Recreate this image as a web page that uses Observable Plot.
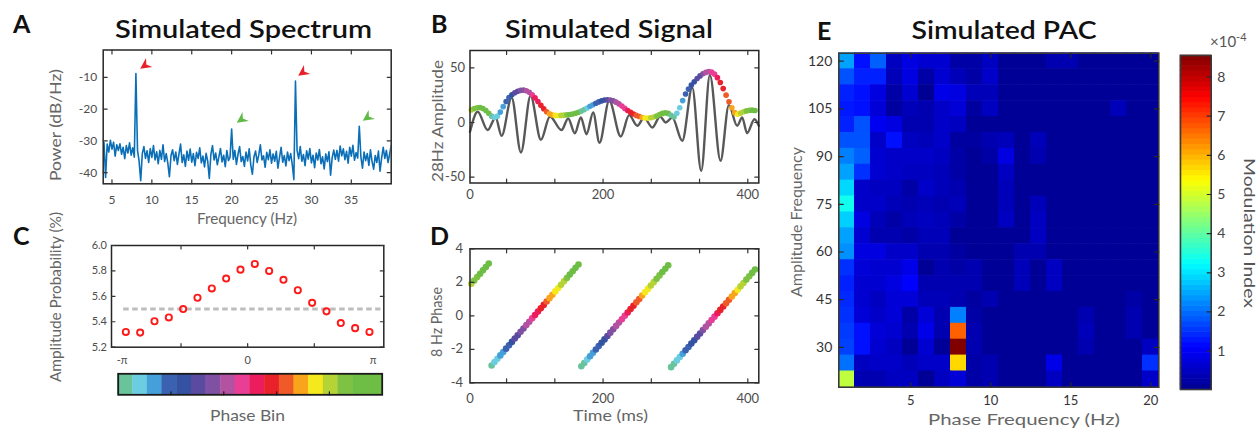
<!DOCTYPE html>
<html><head><meta charset="utf-8">
<script src="https://cdn.jsdelivr.net/npm/d3@7"></script>
<script src="https://cdn.jsdelivr.net/npm/@observablehq/plot@0.6"></script>
<style>
html,body{margin:0;padding:0;background:#fff;}
#fig{position:relative;width:1260px;height:429px;overflow:hidden;background:#fff;}
#fig > svg{position:absolute;}
</style></head><body><div id="fig"></div>
<script>
// ---------- Panel A: spectrum ----------
const specFreq = [4,4.2,4.4,4.6,4.8,5,5.2,5.4,5.6,5.8,6,6.2,6.4,6.6,6.8,7,7.2,7.4,7.6,7.8,
8,8.2,8.4,8.6,8.8,9,9.2,9.4,9.6,9.8,10,10.2,10.4,10.6,10.8,11,11.2,11.4,11.6,11.8,
12,12.2,12.4,12.6,12.8,13,13.2,13.4,13.6,13.8,14,14.2,14.4,14.6,14.8,15,15.2,15.4,15.6,15.8,
16,16.2,16.4,16.6,16.8,17,17.2,17.4,17.6,17.8,18,18.2,18.4,18.6,18.8,19,19.2,19.4,19.6,19.8,
20,20.2,20.4,20.6,20.8,21,21.2,21.4,21.6,21.8,22,22.2,22.4,22.6,22.8,23,23.2,23.4,23.6,23.8,
24,24.2,24.4,24.6,24.8,25,25.2,25.4,25.6,25.8,26,26.2,26.4,26.6,26.8,27,27.2,27.4,27.6,27.8,
28,28.2,28.4,28.6,28.8,29,29.2,29.4,29.6,29.8,30,30.2,30.4,30.6,30.8,31,31.2,31.4,31.6,31.8,
32,32.2,32.4,32.6,32.8,33,33.2,33.4,33.6,33.8,34,34.2,34.4,34.6,34.8,35,35.2,35.4,35.6,35.8,
36,36.2,36.4,36.6,36.8,37,37.2,37.4,37.6,37.8,38,38.2,38.4,38.6,38.8,39,39.2,39.4,39.6,39.8,40];
const specPower = [-30.5,-41.5,-31.0,-33.5,-29.8,-32.6,-30.4,-34.8,-31.2,-33.0,-30.9,-34.2,-32.0,-35.6,-31.5,-33.8,-30.6,-34.5,-32.2,-35.1,
-8.8,-33.0,-36.4,-42.5,-34.0,-31.8,-35.5,-33.1,-36.8,-32.4,-35.2,-31.5,-36.0,-33.4,-37.2,-33.0,-35.8,-31.2,-36.5,-34.0,
-37.0,-41.3,-34.6,-32.8,-36.2,-33.5,-37.4,-34.1,-31.0,-36.8,-34.4,-38.0,-33.2,-36.1,-32.6,-36.7,-34.0,-37.8,-33.6,-35.5,
-32.2,-36.9,-34.8,-38.2,-33.9,-36.4,-41.8,-34.2,-31.5,-36.0,-33.8,-37.5,-35.0,-32.4,-36.6,-34.5,-38.1,-33.0,-36.2,-35.1,
-26.3,-35.8,-33.0,-37.4,-34.2,-31.8,-36.5,-34.9,-38.0,-33.5,-36.3,-32.5,-37.6,-40.5,-35.0,-33.2,-36.8,-34.4,-31.2,-36.0,
-34.7,-38.3,-33.6,-35.9,-32.8,-37.0,-34.1,-36.4,-33.3,-38.6,-35.2,-32.0,-36.7,-34.6,-37.9,-33.5,-36.2,-34.0,-37.5,-42.2,
-11.2,-33.0,-35.6,-31.8,-36.4,-34.3,-37.8,-33.1,-35.7,-32.4,-36.9,-34.5,-38.4,-33.8,-36.0,-32.7,-37.2,-35.0,-38.8,-34.1,
-36.5,-33.4,-40.8,-35.3,-32.9,-35.8,-33.0,-36.4,-31.6,-34.7,-32.5,-35.9,-33.3,-37.0,-32.0,-34.8,-31.4,-36.1,-33.7,-35.4,
-25.4,-35.0,-38.6,-33.5,-36.2,-34.0,-37.7,-32.8,-36.5,-38.9,-34.6,-36.8,-33.2,-39.5,-35.4,-32.0,-35.5,-33.0,-36.8,-34.2,-31.5];
const arrowFreq = [9.1, 21.2, 28.9, 37.0];
const arrowPower = [-6.3, -23.3, -8.5, -22.7];
const arrowKind = ["red", "green", "red", "green"];
const specXTicks = [5,10,15,20,25,30,35];
const specYTicks = [-40,-30,-20,-10];

// ---------- Panels B & D: signal, amplitude envelope, 8 Hz phase ----------
const sigTime = [18,22,26,30,34,38,42,46,50,54,58,62,66,70,74,78,82,86,90,94,98,102,106,110,114,118,122,126,130,134,
138,142,146,150,154,158,162,166,170,174,178,182,186,190,194,198,202,206,210,214,218,222,226,230,234,238,242,246,250,254,
258,262,266,270,274,278,282,286,290,294,298,302,306,310,314,318,322,326,330,334,338,342,346,350,354,358,362,366,370,374,
378,382,386,390,394,398,402,406,410];
const sigEnvelope = [11.5,12.7,13.5,13.6,12.8,11.0,8.5,5.8,4.6,5.8,9.5,14.5,19.2,22.8,25.3,27.2,28.6,29.4,29.6,29.0,
27.6,25.3,22.5,19.2,15.8,12.5,9.8,7.9,6.9,6.5,6.4,6.5,6.7,7.0,7.3,7.8,8.4,9.3,10.4,11.8,
13.3,14.8,16.2,17.6,18.8,19.8,20.5,20.8,20.6,19.8,18.6,17.0,15.0,12.9,11.0,9.3,7.8,6.5,5.5,4.6,
4.1,4.0,4.3,5.0,6.0,7.2,8.3,8.8,8.3,6.6,5.0,8.5,13.5,20.0,26.0,30.5,34.2,37.3,40.2,42.6,
44.5,45.8,46.5,46.0,44.2,41.0,36.5,31.0,25.0,19.0,13.5,9.0,7.5,8.6,9.8,10.6,11.1,11.3,11.0];
const sigPhase = [1.910,2.111,2.312,2.513,2.714,2.915,3.116,-2.966,-2.765,-2.564,-2.363,-2.162,-1.961,-1.760,-1.559,-1.358,-1.157,-0.956,-0.755,-0.554,
-0.353,-0.152,0.049,0.250,0.451,0.652,0.853,1.054,1.255,1.456,1.657,1.858,2.059,2.260,2.461,2.662,2.863,3.064,-3.016,-2.815,
-2.614,-2.413,-2.212,-2.011,-1.810,-1.609,-1.408,-1.207,-1.006,-0.805,-0.604,-0.403,-0.202,-0.001,0.200,0.401,0.602,0.803,1.004,1.205,
1.406,1.607,1.808,2.009,2.210,2.411,2.612,2.813,3.014,-3.066,-2.865,-2.664,-2.463,-2.262,-2.061,-1.860,-1.659,-1.458,-1.257,-1.056,
-0.855,-0.654,-0.453,-0.252,-0.051,0.150,0.351,0.552,0.753,0.954,1.155,1.356,1.557,1.758,1.959,2.160,2.361,2.562,2.763];
// extremes of the grey 28 Hz trace (time ms, amplitude)
const grayTime = [16.1,26.7,40.5,51.5,59.8,73.6,86.5,99.8,114.1,126.5,142.6,151.8,161,169.3,177.1,186.3,195,208.5,224.4,236,
247.4,256.6,268.1,278.7,286.5,295.7,309.4,323.2,335.6,347.6,362.3,373.8,385.3,392.2,399,409.2,415.2];
const grayValue = [-8.5,9.8,-6.9,4.6,-12.2,22.9,-27.4,24.4,-15.8,5.5,-6.9,3.7,-9.8,4.6,-10.7,9.2,-18.5,20,-12.8,6.7,
-3,4.6,-4.6,5.5,0,4.6,-16.7,32,-44.2,43.4,-35,15.9,-3,4.6,-9.8,3,-3];

// ---------- Panel C: amplitude distribution over phase bins ----------
const phaseBins = [1,2,3,4,5,6,7,8,9,10,11,12,13,14,15,16,17,18];
const ampProb = [5.32,5.315,5.404,5.434,5.50,5.589,5.662,5.74,5.81,5.855,5.80,5.73,5.648,5.549,5.482,5.39,5.35,5.32];
const uniformLevel = 5.5;
const binColors = ["#69c39b","#6dcde0","#459fd9","#3b62b0","#3551a2","#5a4ba0","#8050a2","#b352a0","#ea3d95",
"#ec1d5c","#e9212a","#f05a28","#f9a51b","#f4e91c","#b5d334","#7dc242","#6ebe45","#6ebe45"];

// ---------- Panel E: comodulogram ----------
const pacPhaseFreq = [1,2,3,4,5,6,7,8,9,10,11,12,13,14,15,16,17,18,19,20];
const pacAmpFreq = [120,115,110,105,100,95,90,85,80,75,70,65,60,55,50,45,40,35,30,25,20];
const pacMI = [ // x 1e-4, rows follow pacAmpFreq
[2.43,1.22,1.89,0.49,0.79,0.64,0.64,0.25,0.25,0.49,0.10,0.10,0.10,0.33,0.33,0.10,0.10,0.10,0.10,0.10],
[1.76,1.35,1.35,0.41,0.79,0.25,0.64,0.41,0.25,0.56,0.10,0.10,0.10,0.10,0.10,0.10,0.10,0.10,0.10,0.10],
[1.35,1.22,0.79,0.25,0.64,0.05,0.87,0.79,0.41,0.41,0.10,0.10,0.10,0.10,0.10,0.10,0.10,0.10,0.10,0.10],
[1.29,1.22,0.71,0.18,0.41,0.33,0.56,0.71,0.18,0.49,0.10,0.10,0.10,0.10,0.10,0.10,0.10,0.41,0.10,0.10],
[1.35,1.76,0.94,0.79,0.33,0.33,0.56,0.49,0.10,0.10,0.10,0.10,0.10,0.10,0.10,0.10,0.10,0.10,0.10,0.10],
[1.76,1.76,0.56,1.22,0.49,0.41,0.56,0.18,0.18,0.33,0.41,0.10,0.41,0.10,0.10,0.10,0.10,0.10,0.10,0.10],
[2.16,1.89,0.64,0.56,0.56,0.56,0.49,0.25,0.10,0.25,0.79,0.10,0.33,0.10,0.10,0.10,0.10,0.10,0.10,0.10],
[2.43,1.49,0.64,0.56,0.49,0.49,0.41,0.25,0.10,0.10,0.49,0.10,0.10,0.10,0.10,0.10,0.10,0.10,0.10,0.10],
[2.89,0.56,0.49,0.49,0.25,0.56,0.41,0.33,0.10,0.10,0.41,0.10,0.10,0.10,0.10,0.10,0.10,0.10,0.10,0.10],
[3.35,0.56,0.56,0.41,0.33,0.41,0.33,0.41,0.10,0.10,0.41,0.10,0.41,0.10,0.10,0.10,0.10,0.10,0.10,0.10],
[2.83,0.79,0.41,0.25,0.41,0.49,0.41,0.25,0.10,0.10,0.49,0.10,0.49,0.10,0.10,0.10,0.10,0.10,0.10,0.10],
[2.43,0.64,0.33,0.33,0.25,0.41,0.41,0.10,0.10,0.10,0.10,0.10,0.49,0.10,0.10,0.10,0.10,0.10,0.10,0.10],
[2.29,0.79,0.79,0.56,0.56,0.33,0.33,0.18,0.10,0.10,0.10,0.33,0.33,0.10,0.10,0.10,0.10,0.10,0.10,0.10],
[1.49,0.71,0.64,0.64,0.87,0.10,0.33,0.25,0.33,0.10,0.10,0.41,0.10,0.49,0.10,0.10,0.10,0.10,0.10,0.10],
[1.35,0.64,0.64,0.79,1.09,0.33,0.33,0.33,0.33,0.10,0.10,0.41,0.10,0.49,0.10,0.10,0.10,0.10,0.10,0.10],
[1.42,0.64,0.49,0.71,0.71,0.41,0.41,0.33,0.18,0.33,0.10,0.10,0.10,0.10,0.10,0.10,0.10,0.10,0.25,0.10],
[1.49,0.71,0.56,0.71,0.25,0.71,0.33,2.16,0.25,0.10,0.10,0.10,0.10,0.10,0.10,0.33,0.10,0.10,0.33,0.10],
[1.56,1.22,0.71,0.64,0.33,0.87,0.33,6.68,0.33,0.10,0.10,0.10,0.10,0.10,0.10,0.41,0.10,0.10,0.33,0.10],
[1.62,1.22,0.64,0.49,0.10,0.64,0.10,8.55,0.33,0.10,0.10,0.10,0.10,0.10,0.10,0.33,0.10,0.10,0.10,0.49],
[2.02,0.49,0.56,0.56,0.41,0.56,0.56,5.68,0.25,0.33,0.10,0.10,0.10,0.87,0.10,0.10,0.10,0.10,0.10,1.49],
[4.82,0.33,0.33,0.49,0.49,0.10,0.49,0.71,0.25,0.33,0.10,0.10,0.10,0.49,0.10,0.10,0.10,0.10,0.10,0.56]];
const miTicks = [1,2,3,4,5,6,7,8];
const miExtent = [0.02, 8.55];

// ---------- helpers ----------
const FONT = "Lato, 'Open Sans', sans-serif";
const tickShape = {draw(ctx, l) { ctx.moveTo(0, 0); ctx.lineTo(0, -l); }};
function boxTicks(xt, yt, o = {}) {
  const s = {length: o.len ?? 4, anchor: "start", shape: tickShape, stroke: o.stroke ?? "#333", strokeWidth: o.sw ?? 1.2};
  const m = [];
  if (xt) {
    if (o.bottom !== false) m.push(Plot.vector(xt, {x: d => d, frameAnchor: "bottom", rotate: 0, ...s}));
    if (o.top !== false) m.push(Plot.vector(xt, {x: d => d, frameAnchor: "top", rotate: 180, ...s}));
  }
  if (yt) {
    if (o.left !== false) m.push(Plot.vector(yt, {y: d => d, frameAnchor: "left", rotate: 90, ...s}));
    if (o.right !== false) m.push(Plot.vector(yt, {y: d => d, frameAnchor: "right", rotate: -90, ...s}));
  }
  return m;
}
const baseStyle = {fontFamily: FONT, fontSize: "12px", color: "#4d4d4d", background: "transparent", overflow: "visible"};
const fig = document.getElementById("fig");
function place(el, left, top) { el.style.left = left + "px"; el.style.top = top + "px"; fig.appendChild(el); }
const binIndex = p => Math.max(0, Math.min(17, Math.floor((p + Math.PI) / (2 * Math.PI / 18))));
const phaseColor = p => binColors[binIndex(p)];

// ---------- A ----------
const spec = specFreq.map((f, i) => ({f, p: specPower[i]}));
const arrows = arrowFreq.map((f, i) => ({f, p: arrowPower[i], k: arrowKind[i]}));
const arrowShape = {draw(ctx, l) {
  ctx.moveTo(0, -l); ctx.lineTo(0.5 * l, 0); ctx.lineTo(0, -0.32 * l); ctx.lineTo(-0.5 * l, 0); ctx.closePath();
}};
const plotA = Plot.plot({
  width: 420, height: 232, marginLeft: 102.7, marginRight: 29.3, marginTop: 49.5, marginBottom: 48.7,
  style: baseStyle,
  x: {domain: [3.9, 40]}, y: {domain: [-43.5, -1.4]},
  marks: [
    Plot.line(spec, {x: "f", y: "p", stroke: "#0b6fb8", strokeWidth: 1.6, clip: true}),
    Plot.vector(arrows.filter(d => d.k === "red"), {x: "f", y: "p", rotate: 235, length: 11, anchor: "middle", shape: arrowShape, fill: "#e8202a", stroke: "none"}),
    Plot.vector(arrows.filter(d => d.k === "green"), {x: "f", y: "p", rotate: 235, length: 11, anchor: "middle", shape: arrowShape, fill: "#5fbb46", stroke: "none"}),
    Plot.frame({stroke: "#262626", strokeWidth: 1.5}),
    ...boxTicks(specXTicks, specYTicks),
    Plot.axisX({ticks: specXTicks, tickSize: 0, tickPadding: 12, fontSize: 12, fill: "#4d4d4d", label: null, tickFormat: d => String(d)}),
    Plot.axisY({ticks: specYTicks, tickSize: 0, tickPadding: 6, fontSize: 12, fill: "#4d4d4d", label: null, tickFormat: d => String(d)})
  ]
});
place(plotA, 0, 0);

// ---------- B ----------
const sig = sigTime.map((t, i) => ({t, env: sigEnvelope[i], phase: sigPhase[i]}));
const gray = grayTime.map((t, i) => ({t, v: grayValue[i]}));
const timeTickMarks = [200/3, 400/3, 200, 800/3, 1000/3, 400];
const timeLabels = [16.1, 200, 400];
const timeFmt = d => d < 100 ? "0" : String(d);
const plotB = Plot.plot({
  width: 360, height: 232, marginLeft: 49.5, marginRight: 21.7, marginTop: 50, marginBottom: 49.5,
  style: baseStyle, color: {type: "identity"},
  x: {domain: [16.1, 415.2]}, y: {domain: [-55.3, 65.8]},
  marks: [
    Plot.line(gray, {x: "t", y: "v", stroke: "#585858", strokeWidth: 2.4, curve: "monotone-x"}),
    Plot.dot(sig, {x: "t", y: "env", r: 2.8, fill: d => phaseColor(d.phase), stroke: "none"}),
    Plot.frame({stroke: "#262626", strokeWidth: 1.5}),
    ...boxTicks(timeTickMarks, [-50, 0, 50]),
    Plot.axisX({ticks: timeLabels, tickSize: 0, tickPadding: 7, fontSize: 13, fill: "#4d4d4d", label: null, tickFormat: timeFmt}),
    Plot.axisY({ticks: [-50, 0, 50], tickSize: 0, tickPadding: 5, fontSize: 13, fill: "#4d4d4d", label: null, tickFormat: d => String(d)})
  ]
});
place(plotB, 420, 0);

// ---------- D ----------
const plotD = Plot.plot({
  width: 360, height: 209, marginLeft: 49.5, marginRight: 21.7, marginTop: 28.3, marginBottom: 46.7,
  style: baseStyle, color: {type: "identity"},
  x: {domain: [16.1, 415.2]}, y: {domain: [-4, 4]},
  marks: [
    Plot.dot(sig, {x: "t", y: "phase", r: 3.3, fill: d => phaseColor(d.phase), stroke: "none"}),
    Plot.frame({stroke: "#262626", strokeWidth: 1.5}),
    ...boxTicks(timeTickMarks, [-4, -2, 0, 2, 4]),
    Plot.axisX({ticks: timeLabels, tickSize: 0, tickPadding: 11, fontSize: 13, fill: "#4d4d4d", label: null, tickFormat: timeFmt}),
    Plot.axisY({ticks: [-4, -2, 0, 2, 4], tickSize: 0, tickPadding: 7, fontSize: 13, fill: "#4d4d4d", label: null, tickFormat: d => String(d)})
  ]
});
place(plotD, 420, 220);

// ---------- C ----------
const probData = phaseBins.map((b, i) => ({b, p: ampProb[i]}));
const cLabelPos = [0.75, 9.5, 18.25];
const cLabelTxt = ["-π", "0", "π"];
const plotC = Plot.plot({
  width: 420, height: 160, marginLeft: 111, marginRight: 36.7, marginTop: 25, marginBottom: 33.3,
  style: baseStyle,
  x: {domain: [0, 19]}, y: {domain: [5.2, 6.0]},
  marks: [
    Plot.ruleY([uniformLevel], {x1: 0.85, x2: 18.8, stroke: "#bdbdbd", strokeWidth: 3, strokeDasharray: "5.5,3.5"}),
    Plot.dot(probData, {x: "b", y: "p", r: 3.1, stroke: "#ff1a1a", strokeWidth: 1.9, fill: "none"}),
    Plot.frame({stroke: "#262626", strokeWidth: 1.5}),
    ...boxTicks([4.85, 9.5, 14.15], [5.2, 5.4, 5.6, 5.8, 6.0], {len: 3.5}),
    Plot.axisX({ticks: cLabelPos, tickSize: 0, tickPadding: 8.5, fontSize: 11, fill: "#4d4d4d", label: null, tickFormat: (d, i) => cLabelTxt[i]}),
    Plot.axisY({ticks: [5.2, 5.4, 5.6, 5.8, 6.0], tickSize: 0, tickPadding: 4.5, fontSize: 11, fill: "#4d4d4d", label: null, tickFormat: d => d.toFixed(1)})
  ]
});
place(plotC, 0, 220);

// phase-bin colour bar
const barCells = binColors.map((c, i) => ({i, c}));
const plotBar = Plot.plot({
  width: 420, height: 36, marginLeft: 117.7, marginRight: 38.3, marginTop: 8.3, marginBottom: 6.7,
  style: baseStyle, color: {type: "identity"},
  x: {domain: [0, 18], axis: null}, y: {domain: [0, 1], axis: null},
  marks: [
    Plot.rect(barCells, {x1: "i", x2: d => d.i + 1, y1: 0, y2: 1, fill: "c", inset: -0.2}),
    Plot.frame({stroke: "#1a1a1a", strokeWidth: 1.8}),
    Plot.vector([3.6, 7.2, 10.8, 14.4], {x: d => d, frameAnchor: "bottom", rotate: 0, length: 3, anchor: "start", shape: tickShape, stroke: "#1a1a1a", strokeWidth: 1.2})
  ]
});
place(plotBar, 0, 365);

// ---------- E ----------
const pacCells = [];
pacAmpFreq.forEach((af, r) => pacPhaseFreq.forEach((pf, c) => pacCells.push({pf, af, v: pacMI[r][c]})));
const jet = {type: "linear", domain: [0.02, 1.086, 3.219, 5.351, 7.484, 8.55],
  range: ["#00008f", "#0000ff", "#00ffff", "#ffff00", "#ff0000", "#800000"], interpolate: "rgb", clamp: true};
const eYTicks = [30, 45, 60, 75, 90, 105, 120];
const eXTicks = [5, 10, 15, 20];
const plotE = Plot.plot({
  width: 400, height: 429, marginLeft: 48.3, marginRight: 31.7, marginTop: 52.7, marginBottom: 42.3,
  style: baseStyle, color: jet,
  x: {domain: [0.5, 20.5]}, y: {domain: [17.5, 122.5]},
  marks: [
    Plot.rect(pacCells, {x1: d => d.pf - 0.5, x2: d => d.pf + 0.5, y1: d => d.af - 2.5, y2: d => d.af + 2.5, fill: "v", inset: -0.3}),
    Plot.frame({stroke: "#3a3a3a", strokeWidth: 1.6}),
    ...boxTicks(eXTicks, eYTicks, {stroke: "#2a2a2a", len: 4.5}),
    Plot.axisX({ticks: eXTicks, tickSize: 0, tickPadding: 8.5, fontSize: 13, fill: "#333", label: null}),
    Plot.axisY({ticks: eYTicks, tickSize: 0, tickPadding: 6.5, fontSize: 14, fill: "#333", label: null})
  ]
});
place(plotE, 790, 0);

// colour bar for E
const rampSteps = d3.range(64).map(i => ({
  y1: miExtent[0] + (miExtent[1] - miExtent[0]) * i / 64,
  y2: miExtent[0] + (miExtent[1] - miExtent[0]) * (i + 1) / 64
}));
const plotCB = Plot.plot({
  width: 90, height: 360, marginLeft: 10, marginRight: 49.3, marginTop: 15, marginBottom: 11,
  style: baseStyle, color: jet,
  x: {domain: [0, 1], axis: null}, y: {domain: miExtent},
  marks: [
    Plot.rect(rampSteps, {x1: 0, x2: 1, y1: "y1", y2: "y2", fill: d => (d.y1 + d.y2) / 2, inset: -0.3}),
    Plot.frame({stroke: "#3a3a3a", strokeWidth: 1.6}),
    Plot.vector(miTicks, {y: d => d, frameAnchor: "right", rotate: -90, length: 4, anchor: "start", shape: tickShape, stroke: "#2a2a2a", strokeWidth: 1.2}),
    Plot.axisY({ticks: miTicks, anchor: "right", tickSize: 0, tickPadding: 6, fontSize: 14, fill: "#444", label: null})
  ]
});
place(plotCB, 1170, 40);

// ---------- overlay text: titles, panel letters, axis labels ----------
const ov = d3.select(fig).append("svg").attr("width", 1260).attr("height", 429)
  .style("left", "0px").style("top", "0px").style("pointer-events", "none")
  .attr("font-family", FONT);
const labels = [
  {t: "Simulated Spectrum", x: 243.5, y: 38.3, s: 24.5, w: 600, f: "#111", a: "middle", len: 257},
  {t: "Simulated Signal", x: 609, y: 38.3, s: 24.5, w: 600, f: "#111", a: "middle", len: 208},
  {t: "Simulated PAC", x: 1004, y: 38.5, s: 24.5, w: 600, f: "#111", a: "middle", len: 185},
  {t: "A", x: 13, y: 32.7, s: 25, w: 700, f: "#111", a: "start"},
  {t: "B", x: 431, y: 32.7, s: 25, w: 700, f: "#111", a: "start"},
  {t: "C", x: 13, y: 245, s: 25, w: 700, f: "#111", a: "start"},
  {t: "D", x: 430, y: 245, s: 25, w: 700, f: "#111", a: "start"},
  {t: "E", x: 817, y: 40, s: 25, w: 700, f: "#111", a: "start"},
  {t: "Power (dB/Hz)", x: 61, y: 125, s: 15, w: 400, f: "#666", a: "middle", len: 112, rot: -90},
  {t: "Frequency (Hz)", x: 247, y: 224, s: 15, w: 400, f: "#666", a: "middle", len: 100},
  {t: "Amplitude Probability (%)", x: 61, y: 297, s: 15, w: 400, f: "#666", a: "middle", len: 170, rot: -90},
  {t: "Phase Bin", x: 247.5, y: 421, s: 15, w: 400, f: "#666", a: "middle", len: 75},
  {t: "28Hz Amplitude", x: 443, y: 121, s: 15, w: 400, f: "#666", a: "middle", len: 122, rot: -90},
  {t: "8 Hz Phase", x: 442, y: 322, s: 15, w: 400, f: "#666", a: "middle", len: 70, rot: -90},
  {t: "Time (ms)", x: 610.5, y: 421, s: 15, w: 400, f: "#666", a: "middle", len: 75},
  {t: "Amplitude Frequency", x: 802, y: 222, s: 15, w: 400, f: "#666", a: "middle", len: 150, rot: -90},
  {t: "Phase Frequency (Hz)", x: 1024, y: 425, s: 15, w: 400, f: "#666", a: "middle", len: 192},
  {t: "Modulation Index", x: 1244, y: 233, s: 16, w: 400, f: "#555", a: "middle", len: 150, rot: 90}
];
labels.forEach(d => {
  const el = ov.append("text").text(d.t)
    .attr("font-size", d.s).attr("font-weight", d.w).attr("fill", d.f).attr("text-anchor", d.a)
    .attr("transform", `translate(${d.x},${d.y})` + (d.rot ? ` rotate(${d.rot})` : ""));
  if (d.len) el.attr("textLength", d.len).attr("lengthAdjust", "spacingAndGlyphs");
});
const exp = ov.append("text").attr("x", 1210).attr("y", 47).attr("font-size", 15).attr("fill", "#555");
exp.append("tspan").text("×10");
exp.append("tspan").text("-4").attr("font-size", 11).attr("dy", -6);
</script></body></html>
